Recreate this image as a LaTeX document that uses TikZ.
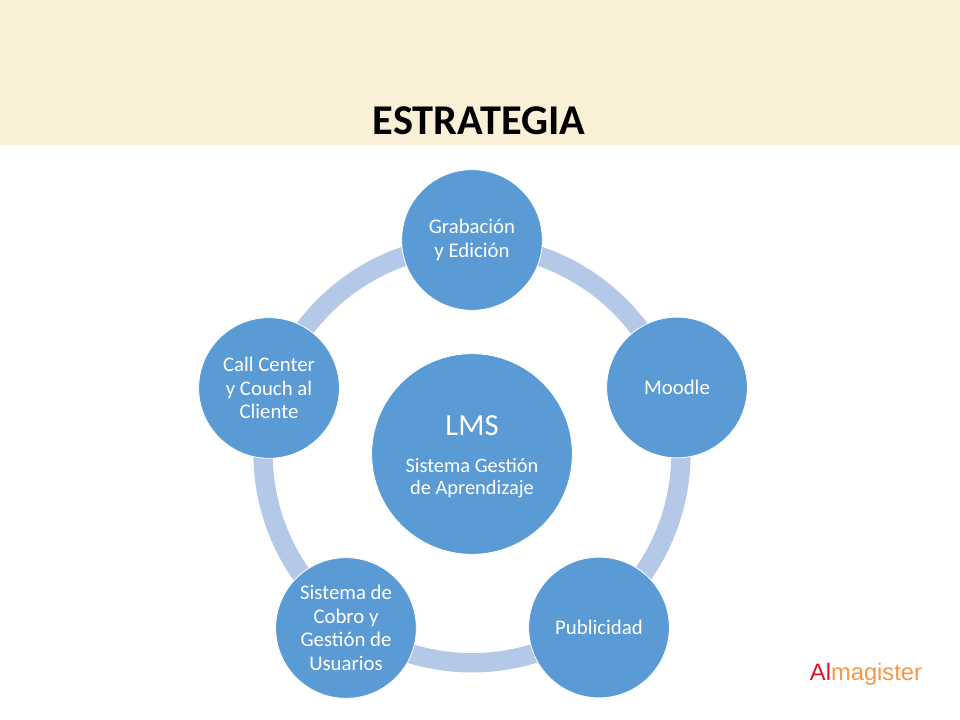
\documentclass[tikz,border=0pt]{standalone}
\usepackage{fontspec}
\setmainfont{Carlito}
\newfontfamily\logofont{Liberation Sans}
\usetikzlibrary{backgrounds}
\definecolor{banner}{HTML}{FAF0D7}
\definecolor{nodeblue}{HTML}{5B9BD5}
\definecolor{ringblue}{HTML}{B4C9E7}
\definecolor{logored}{HTML}{E0141E}
\definecolor{logoorange}{HTML}{F79646}
\tikzset{
  x=0.75pt,y=-0.75pt,
  bubble/.style={circle,draw=white,line width=0.6pt,fill=nodeblue,text=white,minimum size=105.5pt,inner sep=0pt,align=center,font=\fontsize{15.6}{17.6}\selectfont},
  hub/.style={bubble,minimum size=150.5pt,font=\fontsize{15.3}{16.5}\selectfont},
  ring/.style={ringblue,line width=14.5pt,line cap=butt,bend left=36,looseness=0.94},
}
\begin{document}
\begin{tikzpicture}
\useasboundingbox (0,0) rectangle (960,720);
\fill[banner] (0,0) rectangle (960,145);
\node[font=\fontsize{31.8}{36}\selectfont\bfseries,text=black] (title) at (479,121) {ESTRATEGIA};
\node[hub] (lms) at (472,454) {\rule{0pt}{19.5pt}{\fontsize{23}{26}\selectfont LMS}\\[11pt]Sistema Gestión\\de Aprendizaje};
\node[bubble] (grab) at (472,240) {Grabación\\y Edición};
\node[bubble] (moodle) at (677,387.5) {Moodle};
\node[bubble] (pub) at (599,627.5) {Publicidad};
\node[bubble] (cobro) at (346,628) {Sistema de\\Cobro y\\Gestión de\\Usuarios};
\node[bubble] (call) at (269,388) {Call Center\\y Couch al\\Cliente};
\coordinate (ringgrab) at (472,245);
\coordinate (ringmoodle) at (670.8,389.4);
\coordinate (ringpub) at (594.8,623.1);
\coordinate (ringcobro) at (349.2,623.1);
\coordinate (ringcall) at (273.2,389.4);
\begin{pgfonlayer}{background}
\fill[white] (0,145) rectangle (960,720);
\draw[ring] (ringgrab) to (ringmoodle);
\draw[ring] (ringmoodle) to (ringpub);
\draw[ring] (ringpub) to (ringcobro);
\draw[ring] (ringcobro) to (ringcall);
\draw[ring] (ringcall) to (ringgrab);
\end{pgfonlayer}
\node[font=\logofont\fontsize{17.8}{20}\selectfont,inner sep=0pt] (logo) at (866,674) {\textcolor{logored}{Al}\textcolor{logoorange}{magister}};
\end{tikzpicture}
\end{document}
